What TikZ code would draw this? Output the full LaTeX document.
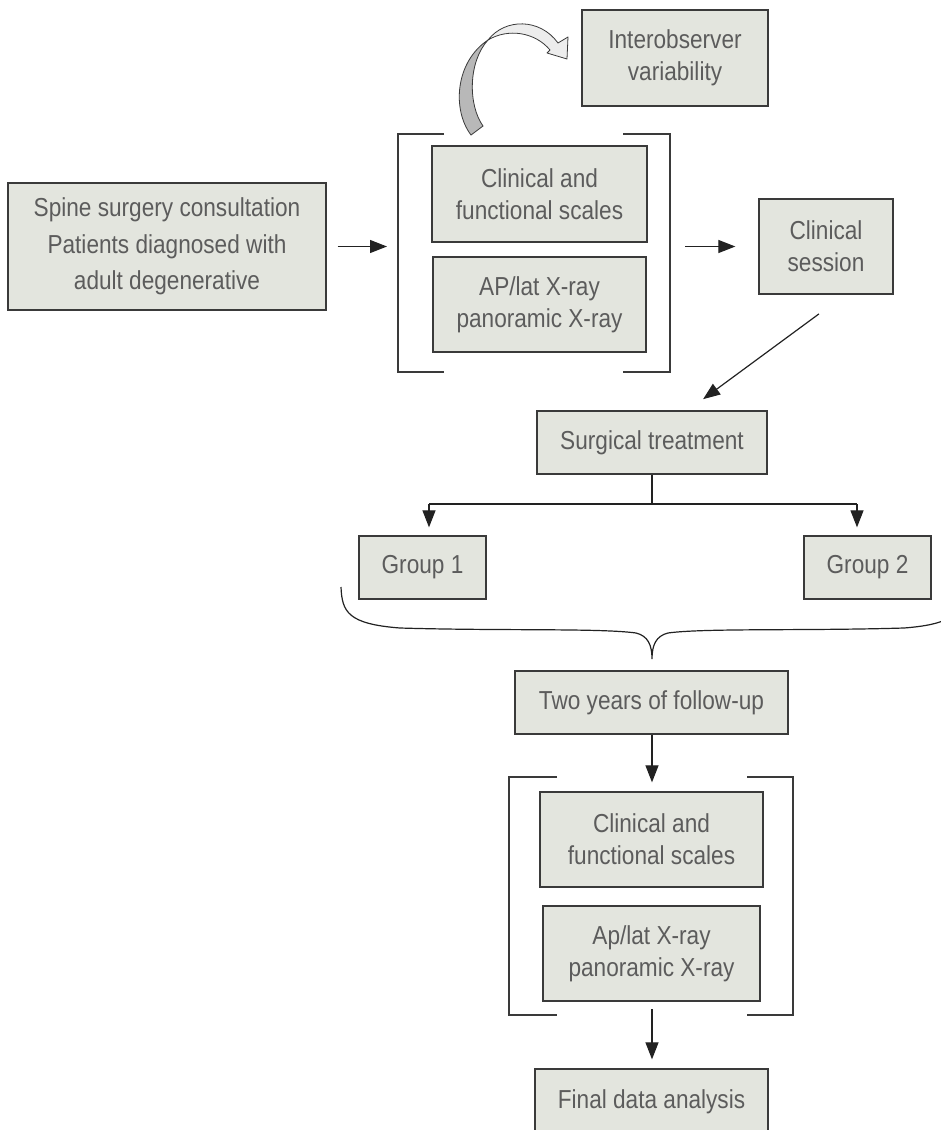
\documentclass[tikz,border=0pt]{standalone}
\usepackage{fontspec}
\setmainfont{Liberation Sans}[FakeStretch=0.87]
\usetikzlibrary{arrows.meta,calc}
\definecolor{boxfill}{HTML}{E3E5DE}
\definecolor{boxline}{HTML}{3A3A3A}
\definecolor{connline}{HTML}{222222}
\definecolor{txt}{HTML}{5C5C5C}
\definecolor{ribdark}{HTML}{B8B8B8}
\definecolor{riblight}{HTML}{EDEDED}
\tikzset{
  box/.style={draw=boxline, fill=boxfill, line width=1.3pt, text=txt, align=center,
    inner sep=0pt, font=\fontsize{26}{31.7}\selectfont},
  conn/.style={draw=connline, line width=1.2pt},
  arr/.style={conn, -{Triangle[length=17pt,width=13pt]}},
  brk/.style={draw=boxline, line width=1.3pt},
}
\begin{document}
\begin{tikzpicture}[x=1pt,y=-1pt]
\useasboundingbox (0,0) rectangle (941,1130);
\clip (0,0) rectangle (941,1130);

% nodes
\node[box, minimum width=318pt, minimum height=127pt, font=\fontsize{26}{36.7}\selectfont] (spine) at (167,246.5)
  {Spine surgery consultation\\Patients diagnosed with\\adult degenerative};
\node[box, minimum width=186pt, minimum height=96pt] (inter) at (675,58) {Interobserver\\variability};
\node[box, minimum width=215pt, minimum height=96pt] (clin1) at (539.5,194) {Clinical and\\functional scales};
\node[box, minimum width=213pt, minimum height=95pt] (ap1) at (539.5,304.5) {AP/lat X-ray\\panoramic X-ray};
\node[box, minimum width=134pt, minimum height=95pt] (session) at (826,246.5) {Clinical\\session};
\node[box, minimum width=230pt, minimum height=63pt] (surg) at (652,442.5) {Surgical treatment};
\node[box, minimum width=127pt, minimum height=63pt] (g1) at (422.5,567.5) {Group 1};
\node[box, minimum width=127pt, minimum height=63pt] (g2) at (867.5,567.5) {Group 2};
\node[box, minimum width=273pt, minimum height=63pt] (two) at (651.5,702.5) {Two years of follow-up};
\node[box, minimum width=223pt, minimum height=95pt] (clin2) at (651.5,839.5) {Clinical and\\functional scales};
\node[box, minimum width=217pt, minimum height=95pt] (ap2) at (651.5,953.5) {Ap/lat X-ray\\panoramic X-ray};
\node[box, minimum width=233pt, minimum height=66pt] (final) at (651.5,1102) {Final data analysis};

% bracket 1
\coordinate (b1tl) at (398,134); \coordinate (b1bl) at (398,372);
\coordinate (b1tr) at (670,134); \coordinate (b1br) at (670,372);
\draw[brk] ($(b1tl)+(46,0)$) -- (b1tl) -- (b1bl) -- ($(b1bl)+(46,0)$);
\draw[brk] ($(b1tr)+(-47,0)$) -- (b1tr) -- (b1br) -- ($(b1br)+(-47,0)$);
\coordinate (b1L) at (398,246.5);
\coordinate (b1R) at (670,246.5);

% bracket 2
\coordinate (b2tl) at (509,777); \coordinate (b2bl) at (509,1015);
\coordinate (b2tr) at (793,777); \coordinate (b2br) at (793,1015);
\draw[brk] ($(b2tl)+(48,0)$) -- (b2tl) -- (b2bl) -- ($(b2bl)+(48,0)$);
\draw[brk] ($(b2tr)+(-46,0)$) -- (b2tr) -- (b2br) -- ($(b2br)+(-46,0)$);
\coordinate (b2T) at (652,777);
\coordinate (b2B) at (652,1015);

% connectors
\draw[arr, shorten <=11pt, shorten >=11pt] (spine.east) -- (b1L);
\draw[arr, shorten <=15pt, shorten >=23pt] (b1R) -- (session.west);
\coordinate (dS) at (846,294);
\coordinate (dE) at (687,411);
\draw[arr, shorten <=33.6pt, shorten >=20pt] (dS) -- (dE);

\coordinate (bl) at (429,504);
\coordinate (br) at (857,504);
\draw[conn] (surg.south) -- (surg.south |- bl);
\draw[conn] (bl) -- (br);
\draw[arr, shorten >=8pt] (bl) -- (bl |- g1.north);
\draw[arr, shorten >=8pt] (br) -- (br |- g2.north);

\draw[arr, shorten >=9pt] (two.south -| b2T) -- (clin2.north -| b2T);
\draw[arr, shorten <=-6pt, shorten >=9pt] (b2B) -- (final.north -| b2B);

% brace
\coordinate (brL) at (341,587);
\coordinate (brTip) at (652,659);
\coordinate (brR) at (963,587);
\draw[conn] (brL) .. controls (342,612) and (348,624) .. (400,628)
  .. controls (500,631) and (600,628) .. (636,633)
  .. controls (648,636) and (652,645) .. (brTip)
  .. controls (652,645) and (656,636) .. (668,633)
  .. controls (704,628) and (804,631) .. (904,628)
  .. controls (956,624) and (962,612) .. (brR);

% twisted ribbon arrow
\filldraw[draw=boxline, line width=0.8pt, fill=ribdark]
  (471,135) .. controls (452,110) and (455,62) .. (488,40)
  .. controls (468,62) and (468,105) .. (483,126) -- cycle;
\filldraw[draw=boxline, line width=0.8pt, fill=riblight, line join=round]
  (488,40) .. controls (505,18) and (540,18) .. (558,43)
  -- (568,37) -- (567,59) -- (547,53) -- (550,50)
  .. controls (535,32) and (508,28) .. (488,40) -- cycle;
\end{tikzpicture}
\end{document}
